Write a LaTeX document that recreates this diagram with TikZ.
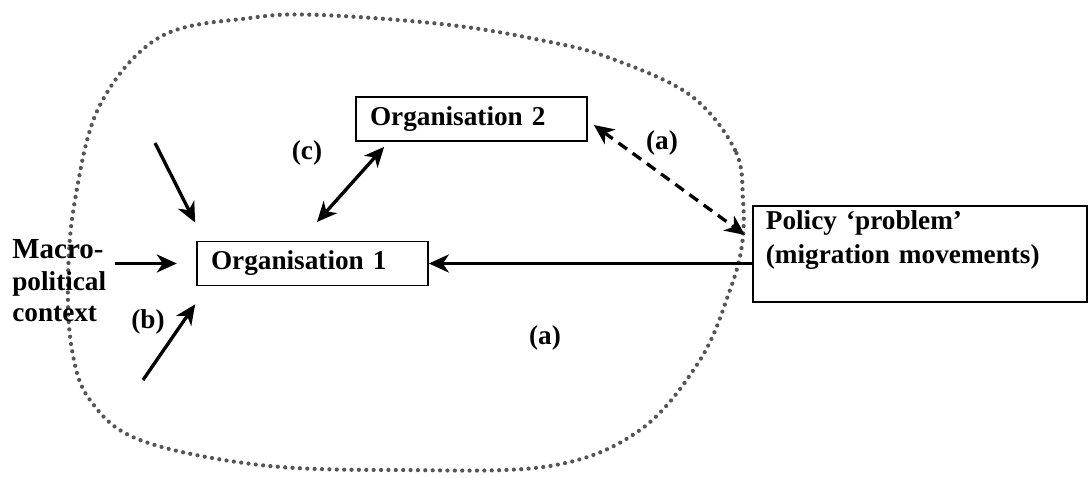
\documentclass[tikz,border=0pt]{standalone}
\usepackage{fontspec}
\setmainfont{Liberation Serif}
\usepackage{tikz}
\usetikzlibrary{arrows.meta}
\definecolor{dotgray}{RGB}{85, 85, 85}

\begin{document}
\begin{tikzpicture}[x=0.02cm, y=-0.02cm,
    orgbox/.style={draw, line width=1pt, text width=4.06cm, inner xsep=0.28cm, minimum height=0.88cm, align=left, font=\bfseries\fontsize{15.5}{18}\selectfont},
    lbl/.style={font=\bfseries\fontsize{15.5}{18}\selectfont, inner sep=0pt},
    arr/.style={line width=1.9pt, -{Stealth[length=0.4cm, width=0.36cm, inset=0.12cm]}},
    darr/.style={line width=1.9pt, {Stealth[length=0.4cm, width=0.36cm, inset=0.12cm]}-{Stealth[length=0.4cm, width=0.36cm, inset=0.12cm]}}]
        \useasboundingbox (0,0) rectangle (1089,477);
        \draw[dotgray, line width=2.4pt, line cap=round, dash pattern=on 0pt off 4.2pt]
            plot[smooth cycle, tension=0.6] coordinates {(743,200) (735,150) (690,95) (610,58) (550,42) (450,25) (320,15) (250,18) (160,37) (100,105) (75,200) (68,280) (72,350) (90,400) (140,440) (260,465) (400,470) (550,466) (640,430) (700,360) (730,290) (742,245)};
        \node[orgbox] (org1) at (312.5,263.5) {Organisation 1};
        \node[orgbox] (org2) at (471.5,119) {Organisation 2};
        \node[draw, line width=1pt, anchor=north west, text width=6.16cm, inner xsep=0.26cm, inner ysep=0.09cm, align=left, font=\bfseries\fontsize{15.5}{19.5}\selectfont] (policy) at (752,205) {Policy ‘problem’\\(migration movements)\\ \mbox{}};
        \node[lbl, align=left, anchor=west] (macro) at (12,281) {\fontsize{16.5}{17.5}\selectfont Macro-\\political\\context};
        \node[lbl] (lblc) at (307,153) {(c)};
        \node[lbl] (lblb) at (148,322) {(b)};
        \node[lbl] (lbla) at (662,143) {(a)};
        \node[lbl] (lblaa) at (545,338) {(a)};
        \coordinate (topin) at (155,143);
        \coordinate (botin) at (143,380);
        \coordinate (ctail) at (317,222);
        \draw[arr] (topin) -- ([shift={(-1,-18)}]org1.north west);
        \draw[arr] (botin) -- ([shift={(-1,18)}]org1.south west);
        \draw[arr] ([xshift=5]macro.east |- org1.west) -- ([xshift=-11]org1.west);
        \draw[arr] (policy.west |- org1.east) -- (org1.east);
        \draw[darr] (ctail) -- ([shift={(29,5)}]org2.south west);
        \draw[darr, dash pattern=on 6pt off 4pt] ([shift={(6,6)}]org2.east) -- ([shift={(-7,30)}]policy.north west);
    \end{tikzpicture}
\end{document}
